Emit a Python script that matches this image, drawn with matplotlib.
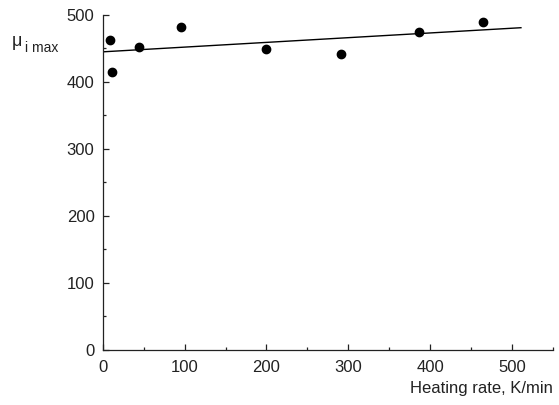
import matplotlib
matplotlib.use("Agg")
import matplotlib.pyplot as plt
from matplotlib.ticker import MultipleLocator

plt.rcParams['font.family'] = ['Liberation Sans', 'DejaVu Sans']

# measured points
rate = [9, 11, 44, 96, 199, 291, 387, 465]
mu_max = [462, 415, 452, 482, 449, 442, 474, 489]

# linear fit drawn in the original
fit_x = [0, 511]
fit_y = [445, 481]

xticks = [0, 100, 200, 300, 400, 500]
yticks = [0, 100, 200, 300, 400, 500]

fig = plt.figure(figsize=(5.59, 4.05), dpi=100)
ax = fig.add_axes([0.184, 0.136, 0.805, 0.827])

ax.plot(fit_x, fit_y, color='black', lw=1.0)
ax.plot(rate, mu_max, 'o', color='black', ms=6)

ax.set_xlim(0, 550)
ax.set_ylim(0, 500)
ax.set_xticks(xticks)
ax.set_yticks(yticks)
ax.xaxis.set_minor_locator(MultipleLocator(50))
ax.yaxis.set_minor_locator(MultipleLocator(50))
ax.tick_params(which='both', direction='in', labelsize=12, width=0.9,
               colors='#222222', labelcolor='#222222')
ax.tick_params(which='major', length=4.5)
ax.tick_params(axis='x', which='major', pad=7)
ax.tick_params(axis='y', which='major', pad=6)
ax.tick_params(which='minor', length=2.5)

for s in ['top', 'right']:
    ax.spines[s].set_visible(False)
for s in ['left', 'bottom']:
    ax.spines[s].set_linewidth(0.9)
    ax.spines[s].set_color('#222222')

fig.text(553 / 559, 1 - 389 / 405, 'Heating rate, K/min', ha='right', va='center',
         fontsize=12, color='#222222')
fig.text(12 / 559, 1 - 42 / 405, 'μ', ha='left', va='center', fontsize=13, color='#222222')
fig.text(25 / 559, 1 - 48 / 405, 'i max', ha='left', va='center', fontsize=10, color='#222222')

fig.savefig('out.png', dpi=100)
